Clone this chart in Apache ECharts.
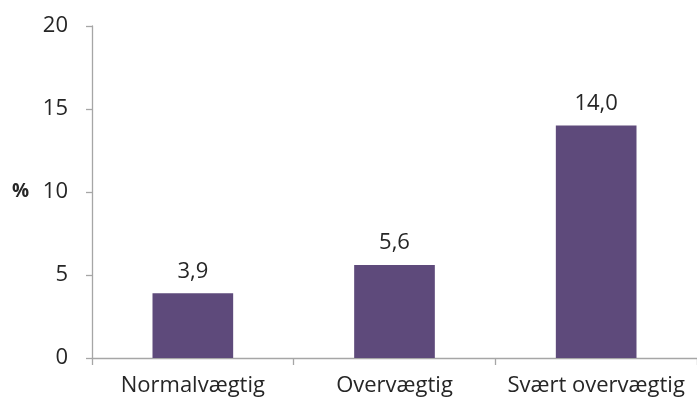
<!DOCTYPE html>
<html>
<head>
<meta charset="utf-8">
<script src="https://cdn.jsdelivr.net/npm/echarts@6/dist/echarts.min.js"></script>
<style>
  html, body { margin: 0; padding: 0; background: #fff; }
  #chart { width: 697px; height: 405px; }
</style>
</head>
<body>
<div id="chart"></div>
<script>
// 类别与数值
const categories = ["Normalvægtig", "Overvægtig", "Svært overvægtig"];
const values = [3.9, 5.6, 14.0];
const yTicks = [0, 5, 10, 15, 20];

const axisColor = "#A6A6A6";
const textColor = "#262626";
const font = "Open Sans";

let myChart = echarts.init(document.getElementById("chart"));

let option = {
  animation: false,
  grid: {
    left: 92,
    top: 26,
    bottom: 47,
    width: 609,
  },
  xAxis: {
    type: "category",
    data: categories,
    axisLine: { lineStyle: { color: axisColor, width: 1.3 } },
    axisTick: { show: true, length: 7, lineStyle: { color: axisColor, width: 1.3 } },
    axisLabel: {
      color: textColor,
      fontSize: 22,
      fontFamily: font,
      margin: 17,
      interval: 0, // 全部显示，不自动隐藏
      hideOverlap: false,
    },
  },
  yAxis: {
    type: "value",
    min: yTicks[0],
    max: yTicks[yTicks.length - 1],
    interval: 5,
    name: "%",
    nameLocation: "middle",
    nameRotate: 0,
    nameGap: 63,
    nameTextStyle: { color: textColor, fontSize: 19, fontWeight: "bold", fontFamily: font },
    splitLine: { show: false },
    axisLine: { show: true, lineStyle: { color: axisColor, width: 1.3 } },
    axisTick: { show: true, length: 6, lineStyle: { color: axisColor, width: 1.3 } },
    axisLabel: { color: textColor, fontSize: 22, fontFamily: font, margin: 24 },
  },
  series: [
    {
      type: "bar",
      data: values,
      barWidth: "40%",
      itemStyle: { color: "#5E4A7B" },
      label: {
        show: true,
        position: "top",
        distance: 11,
        color: textColor,
        fontSize: 22,
        fontFamily: font,
        formatter: (p) => p.value.toFixed(1).replace(".", ","),
      },
    },
  ],
};

myChart.setOption(option, true);
</script>
</body>
</html>
